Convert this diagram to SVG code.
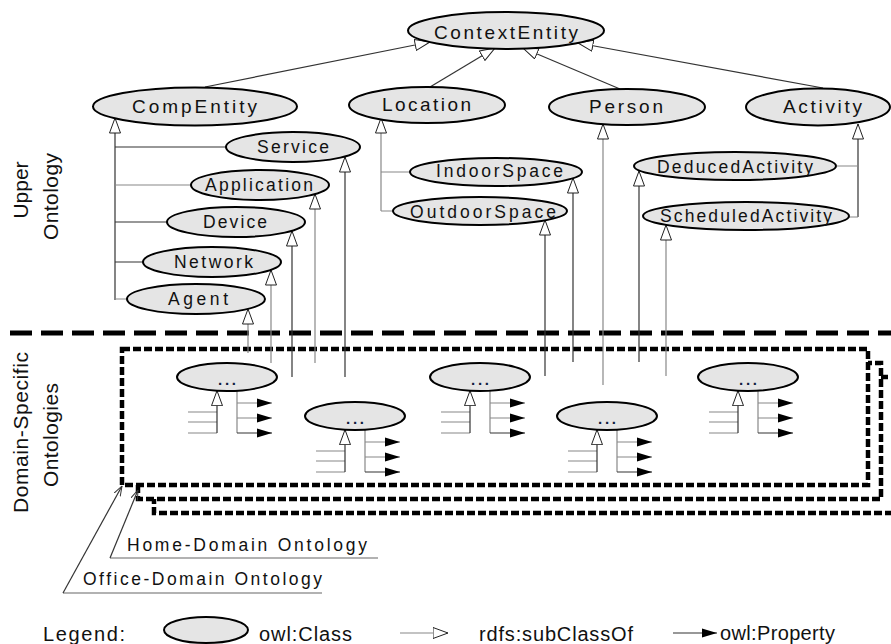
<svg xmlns="http://www.w3.org/2000/svg" xmlns:xlink="http://www.w3.org/1999/xlink" width="891" height="644" viewBox="0 0 891 644">
<style>
text{font-family:"Liberation Sans",Arial,sans-serif;fill:#111}
.cls{fill:#e5e5e5;stroke:#000;stroke-width:2}
.t1{font-size:19px}
.t2{font-size:17.5px}
.t3{font-size:20px}
.side{font-size:21px}
.ln{fill:none;stroke:#333;stroke-width:1.2}
.lg{fill:none;stroke:#888;stroke-width:1.2}
.sub{marker-end:url(#hollow)}
.prop{marker-end:url(#filled)}
.box{fill:#fff;stroke:#000;stroke-width:4.5;stroke-dasharray:8 3}
.sep{fill:none;stroke:#000;stroke-width:5;stroke-dasharray:22 9}
.dots{font-size:15px;font-weight:bold;fill:#102040}
</style>
<defs>
<marker id="hollow" markerUnits="userSpaceOnUse" viewBox="0 0 16 12" refX="15.5" refY="6" markerWidth="16" markerHeight="12" orient="auto">
<path d="M0.5,0.5 L15.5,6 L0.5,11.5 Z" fill="#fff" stroke="#222" stroke-width="1"/>
</marker>
<marker id="filled" markerUnits="userSpaceOnUse" viewBox="0 0 15 10" refX="15" refY="5" markerWidth="15" markerHeight="10" orient="auto">
<path d="M0,0.5 L15,5 L0,9.5 Z" fill="#000"/>
</marker>
<marker id="open" markerUnits="userSpaceOnUse" viewBox="0 0 10 8" refX="10" refY="4" markerWidth="10" markerHeight="8" orient="auto">
<path d="M0,0.5 L10,4 L0,7.5" fill="none" stroke="#333" stroke-width="1"/>
</marker>
<g id="stub">
<path class="lg" d="M-39,35 H-10 M-39,45 H-10 M-39,56 H-10"/>
<path class="ln sub" d="M-10,56 V13.7"/>
<path class="lg" d="M10,14 V56"/>
<path class="lg prop" d="M10,26 H45"/>
<path class="lg prop" d="M10,41 H45"/>
<path class="ln prop" d="M10,56 H45"/>
</g>
</defs>

<rect width="891" height="644" fill="#fff"/>

<!-- domain ontology boxes -->
<g id="domain-ontology-boxes">
<rect class="box" x="154" y="377" width="780" height="136"/>
<rect class="box" x="138" y="363" width="743" height="136"/>
<rect class="box" x="122" y="349" width="746" height="136"/>
</g>
<path class="sep" d="M10,333 H891"/>

<!-- side labels -->
<g id="labels">
<text class="side" transform="translate(28,190) rotate(-90)" text-anchor="middle">Upper</text>
<text class="side" transform="translate(58,240) rotate(-90)" textLength="87" lengthAdjust="spacing">Ontology</text>
<text class="side" transform="translate(28,513) rotate(-90)" textLength="161" lengthAdjust="spacing">Domain-Specific</text>
<text class="side" transform="translate(58,487) rotate(-90)" textLength="104" lengthAdjust="spacing">Ontologies</text>
<text class="t2" x="127" y="551" textLength="240">Home-Domain Ontology</text>
<text class="t2" x="83" y="585" textLength="239">Office-Domain Ontology</text>
</g>

<!-- connectors -->
<g id="connectors">
<path class="ln sub" d="M205,87 L430,42"/>
<path class="ln sub" d="M430,87 L495,48"/>
<path class="ln sub" d="M620,89 L523,48"/>
<path class="ln sub" d="M823,88 L578,43"/>
<path class="ln sub" d="M115,300 V118"/>
<path class="ln" d="M115,147 H226 M115,222 H167 M115,262 H143"/>
<path class="lg" d="M115,185 H191 M115,299 H127"/>
<path class="ln sub" d="M345,377 V157"/>
<path class="lg sub" d="M315,363 V194"/>
<path class="ln sub" d="M292,377 V231"/>
<path class="lg sub" d="M271,363 V270"/>
<path class="lg sub" d="M248,353 V309"/>
<path class="lg sub" d="M381,211 V118"/>
<path class="lg" d="M381,172 H410 M381,211 H394"/>
<path class="ln sub" d="M573,362 V178"/>
<path class="ln sub" d="M545,376 V220"/>
<path class="lg sub" d="M603,385 V124"/>
<path class="ln sub" d="M858,217 V124"/>
<path class="lg" d="M858,166 H837 M858,217 H849"/>
<path class="ln sub" d="M639,362 V171"/>
<path class="lg sub" d="M666,376 V225"/>
<use xlink:href="#stub" href="#stub" x="227" y="377"/>
<use xlink:href="#stub" href="#stub" x="355" y="416"/>
<use xlink:href="#stub" href="#stub" x="480" y="377"/>
<use xlink:href="#stub" href="#stub" x="607" y="416"/>
<use xlink:href="#stub" href="#stub" x="748" y="377"/>
<path class="lg" d="M378,558 H110" style="stroke:#666"/>
<path class="ln" d="M110,558 L138,490" style="marker-end:url(#open)"/>
<path class="lg" d="M322,593 H63" style="stroke:#666"/>
<path class="ln" d="M63,593 L122,486" style="marker-end:url(#open)"/>
</g>

<!-- upper ontology nodes -->
<g id="ContextEntity"><ellipse class="cls" cx="506" cy="30.5" rx="98" ry="18.5"/><text class="t1" x="434" y="39" textLength="144">ContextEntity</text></g>
<g id="CompEntity"><ellipse class="cls" cx="195" cy="106.5" rx="102" ry="19"/><text class="t1" x="132" y="113" textLength="125">CompEntity</text></g>
<g id="Location"><ellipse class="cls" cx="427" cy="105" rx="78" ry="18"/><text class="t1" x="382" y="111" textLength="89">Location</text></g>
<g id="Person"><ellipse class="cls" cx="627" cy="107" rx="78" ry="18"/><text class="t1" x="589" y="113" textLength="74">Person</text></g>
<g id="Activity"><ellipse class="cls" cx="818" cy="107" rx="72" ry="18.5"/><text class="t1" x="783" y="113" textLength="79">Activity</text></g>
<g id="Service"><ellipse class="cls" cx="293" cy="147" rx="67" ry="15"/><text class="t2" x="257" y="153" textLength="72">Service</text></g>
<g id="Application"><ellipse class="cls" cx="260" cy="185" rx="69" ry="15"/><text class="t2" x="205" y="191" textLength="108">Application</text></g>
<g id="Device"><ellipse class="cls" cx="236" cy="222" rx="69" ry="15"/><text class="t2" x="203" y="228" textLength="64">Device</text></g>
<g id="Network"><ellipse class="cls" cx="212" cy="262" rx="69" ry="15"/><text class="t2" x="174" y="268" textLength="79">Network</text></g>
<g id="Agent"><ellipse class="cls" cx="196" cy="299" rx="69" ry="15"/><text class="t2" x="168" y="305" textLength="60">Agent</text></g>
<g id="IndoorSpace"><ellipse class="cls" cx="496" cy="172" rx="86" ry="14"/><text class="t2" x="436" y="177" textLength="127">IndoorSpace</text></g>
<g id="OutdoorSpace"><ellipse class="cls" cx="480" cy="211" rx="87" ry="14"/><text class="t2" x="410" y="218" textLength="146">OutdoorSpace</text></g>
<g id="DeducedActivity"><ellipse class="cls" cx="735" cy="166" rx="101" ry="14"/><text class="t2" x="657" y="173" textLength="156">DeducedActivity</text></g>
<g id="ScheduledActivity"><ellipse class="cls" cx="746" cy="216" rx="103" ry="14"/><text class="t2" x="660" y="222" textLength="172">ScheduledActivity</text></g>

<!-- domain-specific nodes -->
<g id="domain1"><ellipse class="cls" cx="227" cy="377" rx="50" ry="14"/><text class="dots" x="218" y="385" textLength="18">...</text></g>
<g id="domain2"><ellipse class="cls" cx="355" cy="416" rx="50" ry="14"/><text class="dots" x="346" y="424" textLength="18">...</text></g>
<g id="domain3"><ellipse class="cls" cx="480" cy="377" rx="50" ry="14"/><text class="dots" x="471" y="385" textLength="18">...</text></g>
<g id="domain4"><ellipse class="cls" cx="607" cy="416" rx="50" ry="14"/><text class="dots" x="598" y="424" textLength="18">...</text></g>
<g id="domain5"><ellipse class="cls" cx="748" cy="377" rx="50" ry="14"/><text class="dots" x="739" y="385" textLength="18">...</text></g>

<!-- legend -->
<g id="legend">
<text class="t3" x="43" y="641" textLength="82">Legend:</text>
<ellipse class="cls" cx="206" cy="630" rx="42" ry="13"/>
<text class="t3" x="259" y="641" textLength="93">owl:Class</text>
<path class="lg sub" d="M400,633 H448"/>
<text class="t3" x="479" y="641" textLength="154">rdfs:subClassOf</text>
<path class="ln" d="M673,633 H717" style="marker-end:url(#filled)"/>
<text class="t3" x="720" y="640" textLength="115">owl:Property</text>
</g>
</svg>
